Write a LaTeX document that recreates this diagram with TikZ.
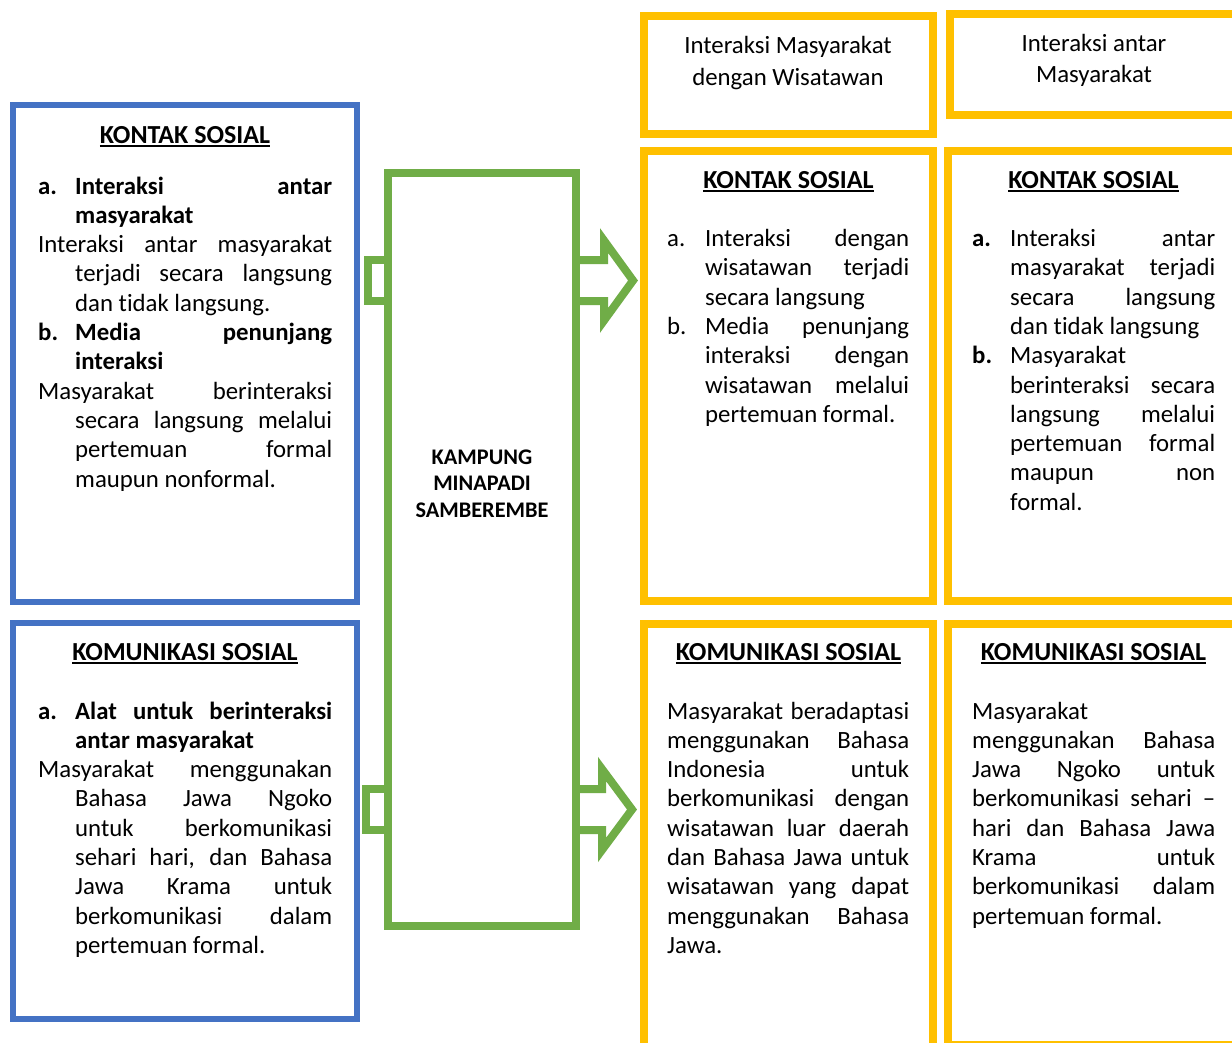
\documentclass[tikz,border=0pt]{standalone}
\usepackage{fontspec}
\setmainfont{Carlito}[Ligatures={TeX,NoCommon}]
\usetikzlibrary{calc}
\definecolor{bluec}{HTML}{4472C4}
\definecolor{greenc}{HTML}{70AD47}
\definecolor{yellowc}{HTML}{FFC000}
\newlength\hangw
\newsavebox\hdbox
\newcommand{\jline}[1]{\noindent\makebox[\linewidth][s]{#1}\par}
\newcommand{\jind}[1]{\noindent\hspace*{\hangw}\makebox[\dimexpr\linewidth-\hangw\relax][s]{#1}\par}
\newcommand{\lind}[1]{\noindent\hspace*{\hangw}#1\par}
\newcommand{\lline}[1]{\noindent #1\par}
\newcommand{\jlab}[2]{\noindent\makebox[\hangw][l]{#1}\makebox[\dimexpr\linewidth-\hangw\relax][s]{#2}\par}
\newcommand{\llab}[2]{\noindent\makebox[\hangw][l]{#1}#2\par}
\newcommand{\hd}[1]{\sbox\hdbox{#1}\rlap{\rule[-3.5pt]{\wd\hdbox}{1.6pt}}\usebox\hdbox}
\newcommand{\bodyfont}{\fontsize{24.8}{29.3}\selectfont}
\newcommand{\headfont}{\fontsize{26}{31}\selectfont\bfseries}
\begin{document}
\begin{tikzpicture}[x=1pt,y=-1pt,
  boxb/.style={draw=bluec, line width=6pt, inner sep=0pt, outer sep=0pt, anchor=north west},
  boxg/.style={draw=greenc, line width=8pt, inner sep=0pt, outer sep=0pt, anchor=north west},
  boxy/.style={draw=yellowc, line width=8pt, inner sep=0pt, outer sep=0pt, anchor=north west},
  gline/.style={draw=greenc, line width=8pt, line join=miter},
  txt/.style={inner sep=0pt, anchor=base west, text=black},
  ctxt/.style={inner sep=0pt, anchor=base, text=black}]
\useasboundingbox (0,0) rectangle (1232,1042);
\clip (0,0) rectangle (1232,1042);
\fill[white] (0,0) rectangle (1232,1042);

% boxes
\node[boxb, minimum width=344pt, minimum height=497pt] (kb1) at (13,105) {};
\node[boxb, minimum width=344pt, minimum height=396pt] (kb2) at (13,623) {};
\node[boxg, minimum width=187.7pt, minimum height=753pt] (g) at (388,173) {};
\node[boxy, minimum width=289pt, minimum height=118pt] (ya) at (644,16) {};
\node[boxy, minimum width=300pt, minimum height=101pt] (yb) at (950,14) {};
\node[boxy, minimum width=289pt, minimum height=450pt] (yc) at (644,151) {};
\node[boxy, minimum width=300pt, minimum height=450pt] (yd) at (948,151) {};
\node[boxy, minimum width=289pt, minimum height=430pt] (yc3) at (644,624) {};
\node[boxy, minimum width=300pt, minimum height=421pt] (yd3) at (948,624) {};

% tabs on the left of the green box
\coordinate (t1) at ($(g.north west)+(0,87)$);
\coordinate (t2) at ($(g.north west)+(0,616)$);
\draw[gline] (t1) -- ++(-20,0) -- ++(0,41) -- ++(20,0);
\draw[gline] (t2) -- ++(-22,0) -- ++(0,41) -- ++(22,0);

% block arrows
\coordinate (a1) at ($(g.north east)+(0,87)$);
\coordinate (a2) at ($(g.north east)+(0,616)$);
\draw[gline] (a1) -- ++(28.3,0) -- ++(0,-19.5) -- ++(29,40) -- ++(-29,40) -- ++(0,-19.5) -- ++(-28.3,0);
\draw[gline] (a2) -- ++(26.3,0) -- ++(0,-20) -- ++(30,40.5) -- ++(-30,40.5) -- ++(0,-20) -- ++(-26.3,0);

% top boxes text
\node[ctxt] (tya) at (788,53) {\begin{minipage}[t]{280pt}\centering\fontsize{24.8}{32}\selectfont Interaksi Masyarakat\\dengan Wisatawan\end{minipage}};
\node[ctxt] (tyb) at (1094,51.5) {\begin{minipage}[t]{280pt}\centering\fontsize{24.8}{31}\selectfont Interaksi antar\\Masyarakat\end{minipage}};

% green text
\node[ctxt] (tg) at (482,464) {\begin{minipage}[t]{180pt}\centering\fontsize{22.3}{26.7}\selectfont\bfseries KAMPUNG\\MINAPADI\\SAMBEREMBE\end{minipage}};

% headings
\node[ctxt] (h1) at (185,143) {\headfont\hd{KONTAK SOSIAL}};
\node[ctxt] (h2) at (185,660) {\headfont\hd{KOMUNIKASI SOSIAL}};
\node[ctxt] (h3) at (788.5,188) {\headfont\hd{KONTAK SOSIAL}};
\node[ctxt] (h4) at (1093.5,188) {\headfont\hd{KONTAK SOSIAL}};
\node[ctxt] (h5) at (788.5,660) {\headfont\hd{KOMUNIKASI SOSIAL}};
\node[ctxt] (h6) at (1093.5,660) {\headfont\hd{KOMUNIKASI SOSIAL}};

% left box 1 text
\node[txt] (b1) at (38,194) {\begin{minipage}[t]{294pt}\bodyfont\setlength{\hangw}{37pt}%
\jlab{\textbf{a.}}{\textbf{Interaksi antar}}
\lind{\textbf{masyarakat}}
\jline{Interaksi antar masyarakat}
\jind{terjadi secara langsung}
\lind{dan tidak langsung.}
\jlab{\textbf{b.}}{\textbf{Media penunjang}}
\lind{\textbf{interaksi}}
\jline{Masyarakat berinteraksi}
\jind{secara langsung melalui}
\jind{pertemuan formal}
\lind{maupun nonformal.}
\end{minipage}};

% left box 2 text
\node[txt] (b2) at (38,719) {\begin{minipage}[t]{294pt}\bodyfont\setlength{\hangw}{37pt}%
\jlab{\textbf{a.}}{\textbf{Alat untuk berinteraksi}}
\lind{\textbf{antar masyarakat}}
\jline{Masyarakat menggunakan}
\jind{Bahasa Jawa Ngoko}
\jind{untuk berkomunikasi}
\jind{sehari hari, dan Bahasa}
\jind{Jawa Krama untuk}
\jind{berkomunikasi dalam}
\lind{pertemuan formal.}
\end{minipage}};

% column C text
\node[txt] (b3) at (667,246.5) {\begin{minipage}[t]{242pt}\bodyfont\setlength{\hangw}{38pt}%
\jlab{a.}{Interaksi dengan}
\jind{wisatawan terjadi}
\lind{secara langsung}
\jlab{b.}{Media penunjang}
\jind{interaksi dengan}
\jind{wisatawan melalui}
\lind{pertemuan formal.}
\end{minipage}};

% column D text
\node[txt] (b4) at (972,246.5) {\begin{minipage}[t]{243pt}\bodyfont\setlength{\hangw}{38pt}%
\jlab{\textbf{a.}}{Interaksi antar}
\jind{masyarakat terjadi}
\jind{secara langsung}
\lind{dan tidak langsung}
\llab{\textbf{b.}}{Masyarakat}
\jind{berinteraksi secara}
\jind{langsung melalui}
\jind{pertemuan formal}
\jind{maupun non}
\lind{formal.}
\end{minipage}};

% column C3 text
\node[txt] (b5) at (667,719) {\begin{minipage}[t]{242pt}\bodyfont%
\jline{Masyarakat beradaptasi}
\jline{menggunakan Bahasa}
\jline{Indonesia untuk}
\jline{berkomunikasi dengan}
\jline{wisatawan luar daerah}
\jline{dan Bahasa Jawa untuk}
\jline{wisatawan yang dapat}
\jline{menggunakan Bahasa}
\lline{Jawa.}
\end{minipage}};

% column D3 text
\node[txt] (b6) at (972,719) {\begin{minipage}[t]{243pt}\bodyfont%
\lline{Masyarakat}
\jline{menggunakan Bahasa}
\jline{Jawa Ngoko untuk}
\jline{berkomunikasi sehari –}
\jline{hari dan Bahasa Jawa}
\jline{Krama untuk}
\jline{berkomunikasi dalam}
\lline{pertemuan formal.}
\end{minipage}};
\end{tikzpicture}
\end{document}
